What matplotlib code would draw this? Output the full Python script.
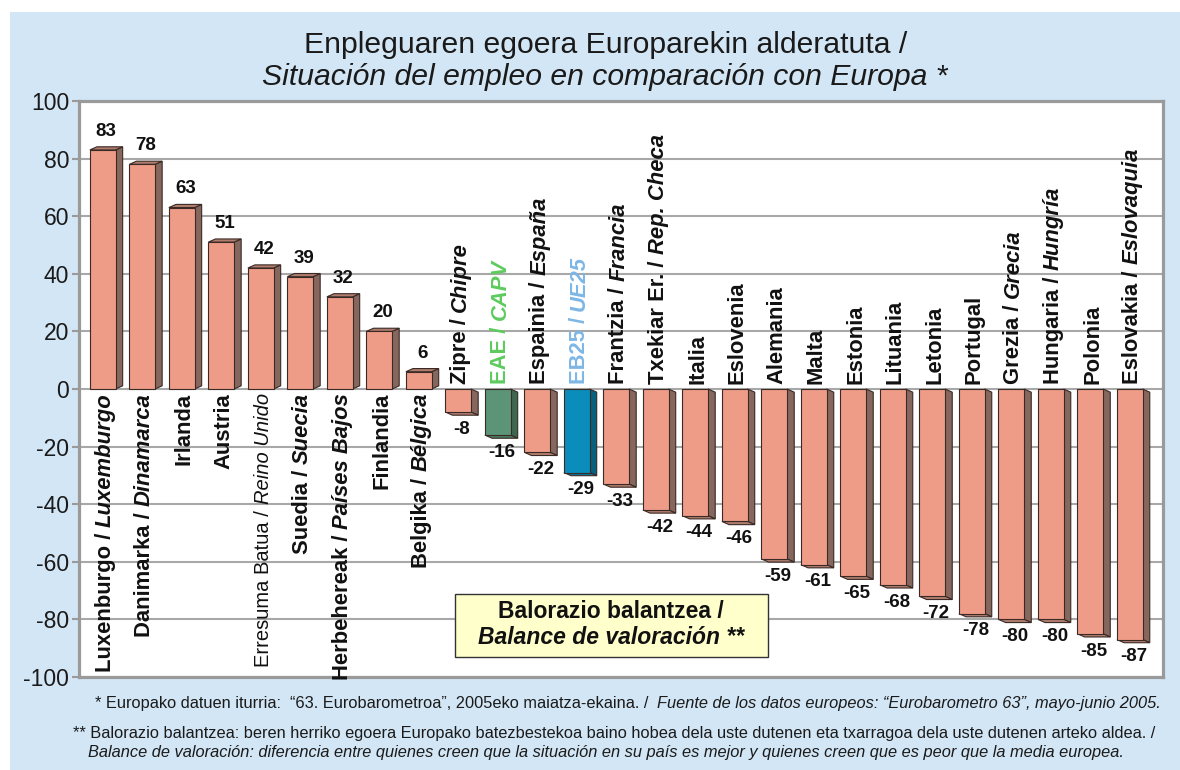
import matplotlib
matplotlib.use('Agg')
import matplotlib.pyplot as plt
import matplotlib.transforms as mtransforms
from matplotlib.patches import Rectangle, Polygon

plt.rcParams['font.family'] = ['Liberation Sans', 'DejaVu Sans']
plt.rcParams['axes.unicode_minus'] = False

# ---------------- data ----------------
eu_names = ['Luxenburgo', 'Danimarka', 'Irlanda', 'Austria', 'Erresuma Batua',
            'Suedia', 'Herbehereak', 'Finlandia', 'Belgika', 'Zipre', 'EAE',
            'Espainia', 'EB25', 'Frantzia', 'Txekiar Er.', 'Italia', 'Eslovenia',
            'Alemania', 'Malta', 'Estonia', 'Lituania', 'Letonia', 'Portugal',
            'Grezia', 'Hungaria', 'Polonia', 'Eslovakia']
es_names = ['Luxemburgo', 'Dinamarca', '', '', 'Reino Unido', 'Suecia',
            'Países Bajos', '', 'Bélgica', 'Chipre', 'CAPV', 'España', 'UE25',
            'Francia', 'Rep. Checa', '', '', '', '', '', '', '', '', 'Grecia',
            'Hungría', '', 'Eslovaquia']
values = [83, 78, 63, 51, 42, 39, 32, 20, 6, -8, -16, -22, -29, -33, -42, -44,
          -46, -59, -61, -65, -68, -72, -78, -80, -80, -85, -87]
yticks = [-100, -80, -60, -40, -20, 0, 20, 40, 60, 80, 100]

title_eu = 'Enpleguaren egoera Europarekin alderatuta /'
title_es = 'Situación del empleo en comparación con Europa *'
box_eu = 'Balorazio balantzea /'
box_es = 'Balance de valoración **'
note1_eu = '* Europako datuen iturria:  “63. Eurobarometroa”, 2005eko maiatza-ekaina. /  '
note1_es = 'Fuente de los datos europeos: “Eurobarometro 63”, mayo-junio 2005.'
note2_eu = ('** Balorazio balantzea: beren herriko egoera Europako batezbestekoa baino hobea '
            'dela uste dutenen eta txarragoa dela uste dutenen arteko aldea. /')
note2_es = ('Balance de valoración: diferencia entre quienes creen que la situación en su '
            'país es mejor y quienes creen que es peor que la media europea.')

# ---------------- style ----------------
W, H, DPI = 1180, 770, 100
bg = '#D3E6F5'
front = {'': '#EE9C87', 'EAE': '#5B9476', 'EB25': '#0A8DBB'}
side = {'': '#86675E', 'EAE': '#3E6750', 'EB25': '#06617F'}
topc = {'': '#B07C6E', 'EAE': '#4A7B60', 'EB25': '#08749A'}
txtcol = {'EAE': '#5CCB5C', 'EB25': '#7DB6E6'}
edge = '#3A2A25'
bw, dx, dy = 0.65, 0.18, 1.1

fig = plt.figure(figsize=(W / DPI, H / DPI), dpi=DPI)
fig.patch.set_facecolor('white')
fig.add_artist(Rectangle((10 / W, 0), 1 - 10 / W, (H - 12) / H, transform=fig.transFigure,
                         facecolor=bg, edgecolor='none', zorder=0))

ax = fig.add_axes([79 / W, 93 / H, 1084 / W, 576 / H])
ax.set_facecolor('white')
ax.set_xlim(-0.60, 26.84)
ax.set_ylim(-100, 100)
ax.set_yticks(yticks)
ax.set_xticks([])
ax.tick_params(axis='y', length=5, width=1.5, color='#9A9A9A', labelsize=16.5,
               labelcolor='#1A1A1A', pad=2)
ax.yaxis.grid(True, color='#A8A8A8', lw=1.5, zorder=0)
ax.set_axisbelow(True)
for sp in ax.spines.values():
    sp.set_color('#9A9A9A')
    sp.set_linewidth(2.3)

for i, v in enumerate(values):
    key = eu_names[i] if eu_names[i] in front else ''
    x0, x1 = i - bw / 2, i + bw / 2
    s = dy if v > 0 else -dy
    ax.add_patch(Polygon([(x1, 0), (x1 + dx, s), (x1 + dx, v + s), (x1, v)],
                         facecolor=side[key], edgecolor=edge, lw=0.8, zorder=3))
    ax.add_patch(Polygon([(x0, v), (x0 + dx, v + s), (x1 + dx, v + s), (x1, v)],
                         facecolor=topc[key], edgecolor=edge, lw=0.8, zorder=3))
    ax.add_patch(Rectangle((x0, 0), bw, v, facecolor=front[key], edgecolor=edge,
                           lw=0.8, zorder=4))
    if v > 0:
        ax.annotate(str(v), (i + dx / 2, v + dy), xytext=(0, 5), textcoords='offset points',
                    ha='center', va='bottom', fontsize=13.5, fontweight='bold', color='#111111')
    else:
        ax.annotate(str(v), (i + dx / 2, v - dy), xytext=(0, -4), textcoords='offset points',
                    ha='center', va='top', fontsize=13.5, fontweight='bold', color='#111111')

# ---------------- mixed style text runs ----------------
fig.canvas.draw()
renderer = fig.canvas.get_renderer()
ident = mtransforms.IdentityTransform()


def text_w(s, **kw):
    t = fig.text(0, 0, s + '|', **kw)
    w1 = t.get_window_extent(renderer).width
    t.set_text('|')
    w2 = t.get_window_extent(renderer).width
    t.remove()
    return w1 - w2


def runs(x, y, parts, align='left', vertical=False, va='baseline', **common):
    # x, y in image pixels (y downwards)
    ws = [text_w(s, **common, **kw) for s, kw in parts]
    total = sum(ws)
    start = {'left': 0, 'center': 0.5, 'right': 1}[align] * total
    dxp, dyp = (0, 1) if vertical else (1, 0)
    px, py = x - dxp * start, (H - y) - dyp * start
    for (s, kw), w in zip(parts, ws):
        fig.text(px, py, s, transform=ident, rotation=90 if vertical else 0,
                 rotation_mode='anchor', ha='left', va=va, **common, **kw)
        px += dxp * w
        py += dyp * w
    return total


up = {'fontweight': 'bold'}
it = {'fontweight': 'bold', 'fontstyle': 'italic'}
for i, v in enumerate(values):
    eu, es = eu_names[i], es_names[i]
    col = txtcol.get(eu, '#111111')
    if eu == 'Erresuma Batua':
        parts = [(eu + ' / ', {}), (es, {'fontstyle': 'italic'})]
        fs = 14.5
    elif es:
        parts = [(eu + ' / ', up), (es, it)]
        fs = 15.8
    else:
        parts = [(eu, up)]
        fs = 15.8
    xp, zp = ax.transData.transform((i + dx / 3, 0))
    zimg = H - zp
    if v > 0:
        runs(xp, zimg + 4, parts, align='right', vertical=True, va='center',
             fontsize=fs, color=col)
    else:
        runs(xp, zimg - 5, parts, align='left', vertical=True, va='center',
             fontsize=fs, color=col)

# titles
fig.text(606, H - 45, title_eu, transform=ident, ha='center', va='center',
         fontsize=21.7, color='#1A1A1A')
fig.text(605, H - 77, title_es, transform=ident, ha='center', va='center',
         fontsize=21.7, fontstyle='italic', color='#1A1A1A')

# legend-like box
fig.add_artist(Rectangle((455, H - 657), 313, 63, transform=ident, facecolor='#FFFFCC',
                         edgecolor='#333333', lw=1.0, zorder=5))
fig.text(611, H - 611, box_eu, transform=ident, ha='center', va='center', fontsize=16.5,
         fontweight='bold', color='#111111', zorder=6)
fig.text(611, H - 638, box_es, transform=ident, ha='center', va='center', fontsize=16.5,
         fontweight='bold', fontstyle='italic', color='#111111', zorder=6)

# footnotes
runs(95, 708, [(note1_eu, {}), (note1_es, {'fontstyle': 'italic'})], fontsize=11.75,
     color='#1A1A1A')
fig.text(73, H - 738, note2_eu, transform=ident, ha='left', va='baseline', fontsize=11.75,
         color='#1A1A1A')
fig.text(88, H - 757, note2_es, transform=ident, ha='left', va='baseline', fontsize=11.75,
         fontstyle='italic', color='#1A1A1A')

fig.savefig('out.png', dpi=DPI)
